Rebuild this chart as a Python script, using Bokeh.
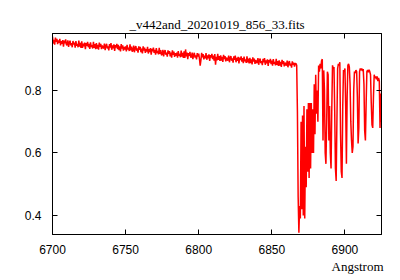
import numpy as np
from bokeh.plotting import figure
from bokeh.models import Range1d, LinearAxis, FixedTicker, Title
from bokeh.embed import file_html
from bokeh.resources import INLINE

TITLE = "_v442and_20201019_856_33.fits"
XLABEL = "Angstrom"
X_TICKS = [6700, 6750, 6800, 6850, 6900]
Y_TICKS = [0.4, 0.6, 0.8]

# continuum part: 0.5 A sampling starting at 6700
cont_start, cont_step = 6700.0, 0.5
cont_flux = [
    0.972, 0.950, 0.962, 0.946, 0.969, 0.955, 0.965, 0.948, 0.960, 0.952,
    0.965, 0.944, 0.958, 0.949, 0.961, 0.940, 0.959, 0.951, 0.963, 0.946,
    0.945, 0.960, 0.939, 0.953, 0.959, 0.944, 0.951, 0.938, 0.958, 0.947,
    0.953, 0.937, 0.958, 0.943, 0.949, 0.938, 0.959, 0.940, 0.952, 0.936,
    0.957, 0.936, 0.950, 0.941, 0.953, 0.932, 0.951, 0.943, 0.955, 0.938,
    0.949, 0.933, 0.954, 0.939, 0.945, 0.934, 0.955, 0.936, 0.948, 0.932,
    0.951, 0.934, 0.946, 0.930, 0.953, 0.939, 0.949, 0.932, 0.944, 0.936,
    0.935, 0.950, 0.929, 0.943, 0.949, 0.934, 0.941, 0.928, 0.948, 0.937,
    0.951, 0.930, 0.944, 0.935, 0.947, 0.926, 0.945, 0.937, 0.949, 0.932,
    0.946, 0.929, 0.941, 0.925, 0.948, 0.934, 0.944, 0.927, 0.939, 0.931,
    0.941, 0.925, 0.946, 0.931, 0.937, 0.926, 0.947, 0.928, 0.940, 0.924,
    0.928, 0.943, 0.922, 0.936, 0.942, 0.927, 0.934, 0.921, 0.941, 0.930,
    0.939, 0.922, 0.934, 0.918, 0.941, 0.927, 0.937, 0.920, 0.932, 0.924,
    0.939, 0.918, 0.932, 0.923, 0.935, 0.914, 0.933, 0.925, 0.937, 0.920,
    0.930, 0.914, 0.935, 0.920, 0.926, 0.915, 0.936, 0.917, 0.929, 0.913,
    0.915, 0.930, 0.909, 0.923, 0.929, 0.914, 0.921, 0.908, 0.928, 0.917,
    0.926, 0.909, 0.921, 0.905, 0.928, 0.914, 0.924, 0.907, 0.919, 0.911,
    0.921, 0.905, 0.926, 0.911, 0.917, 0.906, 0.927, 0.908, 0.920, 0.904,
    0.925, 0.904, 0.931, 0.909, 0.921, 0.900, 0.919, 0.911, 0.923, 0.906,
    0.906, 0.921, 0.900, 0.914, 0.920, 0.905, 0.912, 0.899, 0.919, 0.908,
    0.918, 0.901, 0.879, 0.897, 0.920, 0.906, 0.916, 0.899, 0.911, 0.903,
    0.919, 0.898, 0.912, 0.903, 0.915, 0.894, 0.913, 0.905, 0.917, 0.900,
    0.911, 0.895, 0.916, 0.882, 0.907, 0.896, 0.917, 0.898, 0.910, 0.894,
    0.912, 0.895, 0.907, 0.891, 0.914, 0.900, 0.910, 0.893, 0.905, 0.897,
    0.896, 0.911, 0.890, 0.904, 0.910, 0.895, 0.902, 0.889, 0.909, 0.898,
    0.911, 0.890, 0.904, 0.895, 0.907, 0.886, 0.905, 0.897, 0.909, 0.892,
    0.903, 0.887, 0.908, 0.893, 0.899, 0.888, 0.909, 0.890, 0.902, 0.886,
    0.904, 0.887, 0.899, 0.883, 0.906, 0.892, 0.902, 0.885, 0.897, 0.889,
    0.888, 0.903, 0.882, 0.896, 0.902, 0.887, 0.894, 0.881, 0.901, 0.890,
    0.903, 0.882, 0.896, 0.887, 0.899, 0.878, 0.897, 0.889, 0.901, 0.884,
    0.895, 0.879, 0.900, 0.885, 0.891, 0.880, 0.901, 0.882, 0.894, 0.878,
    0.896, 0.879, 0.891, 0.875, 0.898, 0.884, 0.894, 0.877, 0.889, 0.881,
    0.880, 0.895, 0.874, 0.888, 0.894, 0.879, 0.886, 0.873, 0.893, 0.882,
    0.889, 0.876, 0.886,
]

# O2 B-band part: 0.5 A sampling starting at 6866.5
band_start, band_step = 6866.5, 0.5
band_flux = [
    0.886, 0.880, 0.730, 0.460, 0.345, 0.430, 0.390, 0.700, 0.420, 0.720,
    0.400, 0.750, 0.390, 0.620, 0.490, 0.740, 0.540, 0.760, 0.520, 0.760,
    0.550, 0.760, 0.600, 0.740, 0.600, 0.820, 0.660, 0.850, 0.725, 0.800,
    0.700, 0.880, 0.860, 0.885, 0.870, 0.895, 0.900, 0.640, 0.864, 0.800,
    0.600, 0.565, 0.700, 0.860, 0.850, 0.640, 0.750, 0.600, 0.550, 0.740,
    0.880, 0.870, 0.875, 0.735, 0.550, 0.510, 0.700, 0.870, 0.885, 0.880,
    0.890, 0.660, 0.540, 0.520, 0.750, 0.865, 0.860, 0.870, 0.750, 0.565,
    0.780, 0.880, 0.885, 0.875, 0.820, 0.700, 0.640, 0.600, 0.620, 0.800,
    0.860, 0.855, 0.865, 0.860, 0.780, 0.630, 0.680, 0.860, 0.870, 0.865,
    0.870, 0.862, 0.868, 0.820, 0.670, 0.640, 0.760, 0.860, 0.865, 0.858,
    0.866, 0.860, 0.850, 0.760, 0.690, 0.680, 0.780, 0.850, 0.840, 0.845,
    0.835, 0.845, 0.830, 0.840, 0.830, 0.680, 0.790, 0.700,
]

cont_wave = cont_start + cont_step * np.arange(len(cont_flux))
band_wave = band_start + band_step * np.arange(len(band_flux))
wave = np.concatenate([cont_wave, band_wave])
flux = np.concatenate([np.array(cont_flux), np.array(band_flux)])

X0, X1 = 6700, 6925
Y0, Y1 = 0.339, 0.982

p = figure(width=400, height=280, output_backend="svg", toolbar_location=None,
           x_range=Range1d(X0, X1), y_range=Range1d(Y0, Y1),
           min_border_left=52, min_border_right=19, min_border_top=33,
           min_border_bottom=46, x_axis_type=None, y_axis_type=None)
p.background_fill_color = "white"
p.border_fill_color = "white"
p.outline_line_color = "black"
p.outline_line_width = 1
p.xgrid.visible = False
p.ygrid.visible = False

p.title.text = TITLE
p.title.align = "center"
p.title.text_font = "Liberation Serif"
p.title.text_font_size = "13px"
p.title.text_font_style = "normal"
p.title.text_color = "black"
p.title.standoff = 4

def style(ax, labels=True):
    ax.axis_line_color = "black"
    ax.major_tick_in = 5
    ax.major_tick_out = 0
    ax.major_tick_line_color = "black"
    ax.minor_tick_line_color = None
    if labels:
        ax.major_label_text_font = "Liberation Sans"
        ax.major_label_text_font_size = "12px"
        ax.major_label_text_color = "black"
    else:
        ax.major_label_text_color = None
        ax.major_label_text_font_size = "1px"
        ax.major_label_standoff = 0

xb = LinearAxis(ticker=FixedTicker(ticks=X_TICKS))
style(xb)
xb.major_label_standoff = 10
p.add_layout(xb, "below")
xt = LinearAxis(ticker=FixedTicker(ticks=X_TICKS))
style(xt, labels=False)
p.add_layout(xt, "above")
yl = LinearAxis(ticker=FixedTicker(ticks=Y_TICKS))
style(yl)
yl.major_label_standoff = 11
p.add_layout(yl, "left")
yr = LinearAxis(ticker=FixedTicker(ticks=Y_TICKS))
style(yr, labels=False)
p.add_layout(yr, "right")

p.add_layout(Title(text=XLABEL, align="right", text_font="Liberation Serif",
                   text_font_size="13px", text_font_style="normal",
                   text_color="black", standoff=0, offset=-2), "below")

p.line(wave, flux, line_color="#ff0000", line_width=1.5)

open("out.html", "w").write(file_html(p, INLINE))
